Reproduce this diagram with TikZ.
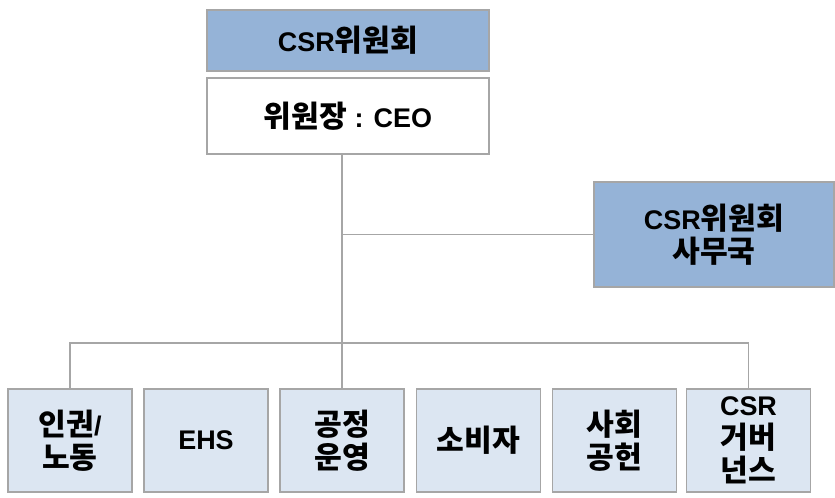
\documentclass[tikz,border=0pt]{standalone}
\usepackage{fontspec}
\setmainfont{Liberation Sans}
\newfontfamily\kr{Noto Sans CJK KR}[Scale=1.12]
\usetikzlibrary{positioning}
\definecolor{headblue}{HTML}{95B3D7}
\definecolor{unitblue}{HTML}{DCE6F2}
\definecolor{edgegray}{HTML}{A6A6A6}
\begin{document}
\begin{tikzpicture}[
    box/.style={draw=edgegray, line width=1.3pt, align=center, inner sep=0pt,
        font=\fontsize{23}{28}\selectfont\bfseries},
    head/.style={box, fill=headblue},
    unit/.style={box, fill=unitblue, minimum width=3.72cm, minimum height=3.09cm},
    link/.style={draw=edgegray, line width=1.3pt}
]
    \useasboundingbox (0, 0) rectangle (25.05, 14.91);
    \path (10.44, 13.695) node [head, minimum width=8.46cm, minimum height=1.83cm] (board) {CSR{\kr 위원회}};
    \path (10.44, 11.43) node [box, fill=white, minimum width=8.46cm, minimum height=2.28cm] (chair) {{\kr 위원장} : CEO};
    \path (21.42, 7.875) node [head, minimum width=7.2cm, minimum height=3.15cm] (office) {CSR{\kr 위원회}\\{\kr 사무국}};
    \path ( 2.1,   1.695) node [unit] (labor) {{\kr 인권}/\\{\kr 노동}};
    \path ( 6.18,  1.695) node [unit] (ehs) {EHS};
    \path (10.26,  1.695) node [unit] (fair) {{\kr 공정}\\{\kr 운영}};
    \path (14.355, 1.695) node [unit] (consumer) {{\kr 소비자}};
    \path (18.435, 1.695) node [unit] (social) {{\kr 사회}\\{\kr 공헌}};
    \path (22.455, 1.695) node [unit] (govern) {CSR\\{\kr 거버}\\{\kr 넌스}};
    \coordinate (bus) at (10.26, 4.62);
    \draw [link] (chair.south -| fair.north) -- (fair.north);
    \draw [link] (office.west) -- (office.west -| fair.north);
    \draw [link] (labor.north) |- (bus) -| (govern.north);
\end{tikzpicture}
\end{document}
